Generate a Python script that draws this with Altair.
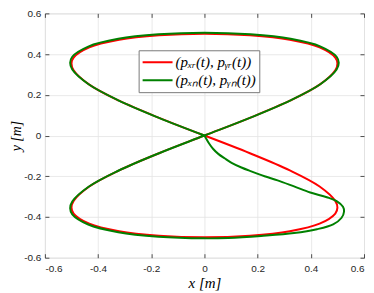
import altair as alt
import pandas as pd

# reference trajectory (red)
red_x = [0, 0.171, 0.321, 0.433, 0.492, 0.500, 0.492, 0.433, 0.321, 0.171, 0,
         -0.171, -0.321, -0.433, -0.492, -0.500, -0.492, -0.433, -0.321, -0.171, 0,
         0.171, 0.321, 0.433, 0.492, 0.500, 0.492, 0.433, 0.321, 0.171, 0,
         -0.171, -0.321, -0.433, -0.492, -0.500, -0.492, -0.433, -0.321, -0.171, 0]
red_y = [0, -0.087, -0.171, -0.250, -0.321, -0.354, -0.383, -0.433, -0.470, -0.492, -0.500,
         -0.492, -0.470, -0.433, -0.383, -0.354, -0.321, -0.250, -0.171, -0.087, 0,
         0.087, 0.171, 0.250, 0.321, 0.354, 0.383, 0.433, 0.470, 0.492, 0.500,
         0.492, 0.470, 0.433, 0.383, 0.354, 0.321, 0.250, 0.171, 0.087, 0]

# actual trajectory (green)
green_x = [0, 0.015, 0.033, 0.052, 0.077, 0.102, 0.139, 0.176, 0.226, 0.275, 0.337,
           0.398, 0.460, 0.497, 0.521, 0.525, 0.515, 0.484, 0.423, 0.337, 0.213, 0.090,
           0, -0.173, -0.324, -0.437, -0.497, -0.505, -0.497, -0.437, -0.324, -0.173, 0,
           0.173, 0.324, 0.437, 0.497, 0.505, 0.497, 0.437, 0.324, 0.173, 0,
           -0.173, -0.324, -0.437, -0.497, -0.505, -0.497, -0.437, -0.324, -0.173, 0]
green_y = [0, -0.034, -0.066, -0.090, -0.113, -0.134, -0.157, -0.176, -0.200, -0.220, -0.250,
           -0.280, -0.303, -0.322, -0.350, -0.373, -0.405, -0.436, -0.460, -0.479, -0.493, -0.503,
           -0.505, -0.497, -0.475, -0.437, -0.387, -0.357, -0.324, -0.253, -0.173, -0.088, 0,
           0.088, 0.173, 0.253, 0.324, 0.357, 0.387, 0.437, 0.475, 0.497, 0.505,
           0.497, 0.475, 0.437, 0.387, 0.357, 0.324, 0.253, 0.173, 0.088, 0]

labels = ["(pₓᵣ(t), pᵧᵣ(t))", "(pₓₙ(t), pᵧₙ(t))"]
colors = ["#ff0000", "#008000"]
ticks = [-0.6, -0.4, -0.2, 0, 0.2, 0.4, 0.6]

red_df = pd.DataFrame({"x": red_x, "y": red_y, "i": list(range(len(red_x))), "s": labels[0]})
green_df = pd.DataFrame({"x": green_x, "y": green_y, "i": list(range(len(green_x))), "s": labels[1]})

lab_expr = "datum.value == 0 ? '0' : '' + datum.value"
sc = alt.Scale(domain=[-0.6, 0.6], nice=False, zero=False)

color = alt.Color(
    "s:N",
    scale=alt.Scale(domain=labels, range=colors),
    legend=alt.Legend(
        title=None, orient="none", legendX=94, legendY=37,
        symbolType="stroke", symbolSize=900, symbolStrokeWidth=2,
        clipHeight=18, rowPadding=-1,
        labelFont="Liberation Serif", labelFontStyle="italic", labelFontSize=15,
        labelColor="#000000", labelOffset=2,
        fillColor="white", strokeColor="#7a7a7a", padding=3,
    ),
)

ax_common = dict(domain=False, tickSize=4, offset=-4, tickColor="#262626", tickWidth=0.8,
                 labelFont="Liberation Sans", labelFontSize=10, labelColor="#262626",
                 gridColor="#e3e3e3", gridWidth=0.8)

title_style = dict(titleFont="Liberation Serif", titleFontStyle="italic",
                   titleFontWeight="normal", titleColor="#000000")

red = alt.Chart(red_df).mark_line(interpolate="catmull-rom", strokeWidth=2).encode(
    x=alt.X("x:Q", scale=sc, axis=alt.Axis(values=ticks, labelExpr=lab_expr, title="x [m]",
                                          grid=True, labelPadding=6, titlePadding=2,
                                          titleFontSize=15, **ax_common, **title_style)),
    y=alt.Y("y:Q", scale=sc, axis=alt.Axis(values=ticks, labelExpr=lab_expr, title="y [m]",
                                          grid=True, labelPadding=4, titlePadding=0,
                                          titleFontSize=14, **ax_common, **title_style)),
    order="i:Q",
    color=color,
)

green = alt.Chart(green_df).mark_line(interpolate="catmull-rom", strokeWidth=2).encode(
    x=alt.X("x:Q", scale=sc, axis=alt.Axis(orient="top", values=ticks, labels=False, title=None,
                                          grid=False, **ax_common)),
    y=alt.Y("y:Q", scale=sc, axis=alt.Axis(orient="right", values=ticks, labels=False, title=None,
                                          grid=False, **ax_common)),
    order="i:Q",
    color=color,
)

chart = alt.layer(red, green).resolve_axis(x="independent", y="independent").properties(
    width=320, height=245,
    autosize=alt.AutoSizeParams(type="none"),
    padding={"left": 37, "top": 5, "right": 2, "bottom": 33},
).configure_view(stroke="#262626", strokeWidth=0.8).configure(background="white")

chart.save("out.html", embed_options={"renderer": "svg", "actions": False})
